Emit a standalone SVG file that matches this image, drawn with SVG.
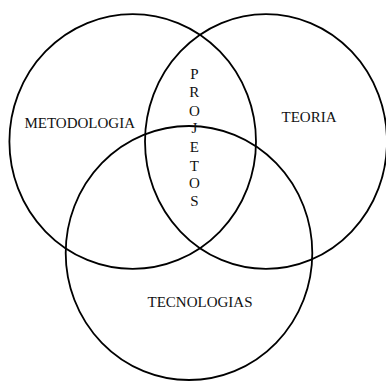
<svg xmlns="http://www.w3.org/2000/svg" width="386" height="382" viewBox="0 0 386 382">
<style>
.c{fill:none;stroke:#000;stroke-width:1.8}
.t{font-family:"Liberation Serif","Times New Roman",serif;font-size:15px;fill:#111}
</style>
<rect width="386" height="382" fill="#fff"/>
<g id="metodologia"><ellipse class="c" cx="132.7" cy="141.5" rx="123.3" ry="127.3"/><text class="t" x="79.7" y="128" text-anchor="middle">METODOLOGIA</text></g>
<g id="teoria"><ellipse class="c" cx="266" cy="141.5" rx="121" ry="127.3"/><text class="t" x="309" y="121.5" text-anchor="middle">TEORIA</text></g>
<g id="tecnologias"><ellipse class="c" cx="189" cy="253" rx="123.3" ry="127"/><text class="t" x="200" y="307" text-anchor="middle">TECNOLOGIAS</text></g>
<g id="projetos"><text class="t" text-anchor="middle"><tspan x="194.3" y="78.5">P</tspan><tspan x="194.3" y="97">R</tspan><tspan x="194.3" y="115.5">O</tspan><tspan x="194.3" y="133">J</tspan><tspan x="194.3" y="152">E</tspan><tspan x="194.3" y="170.5">T</tspan><tspan x="194.3" y="188">O</tspan><tspan x="194.3" y="206">S</tspan></text></g>
<g id="connectors"/>
</svg>
